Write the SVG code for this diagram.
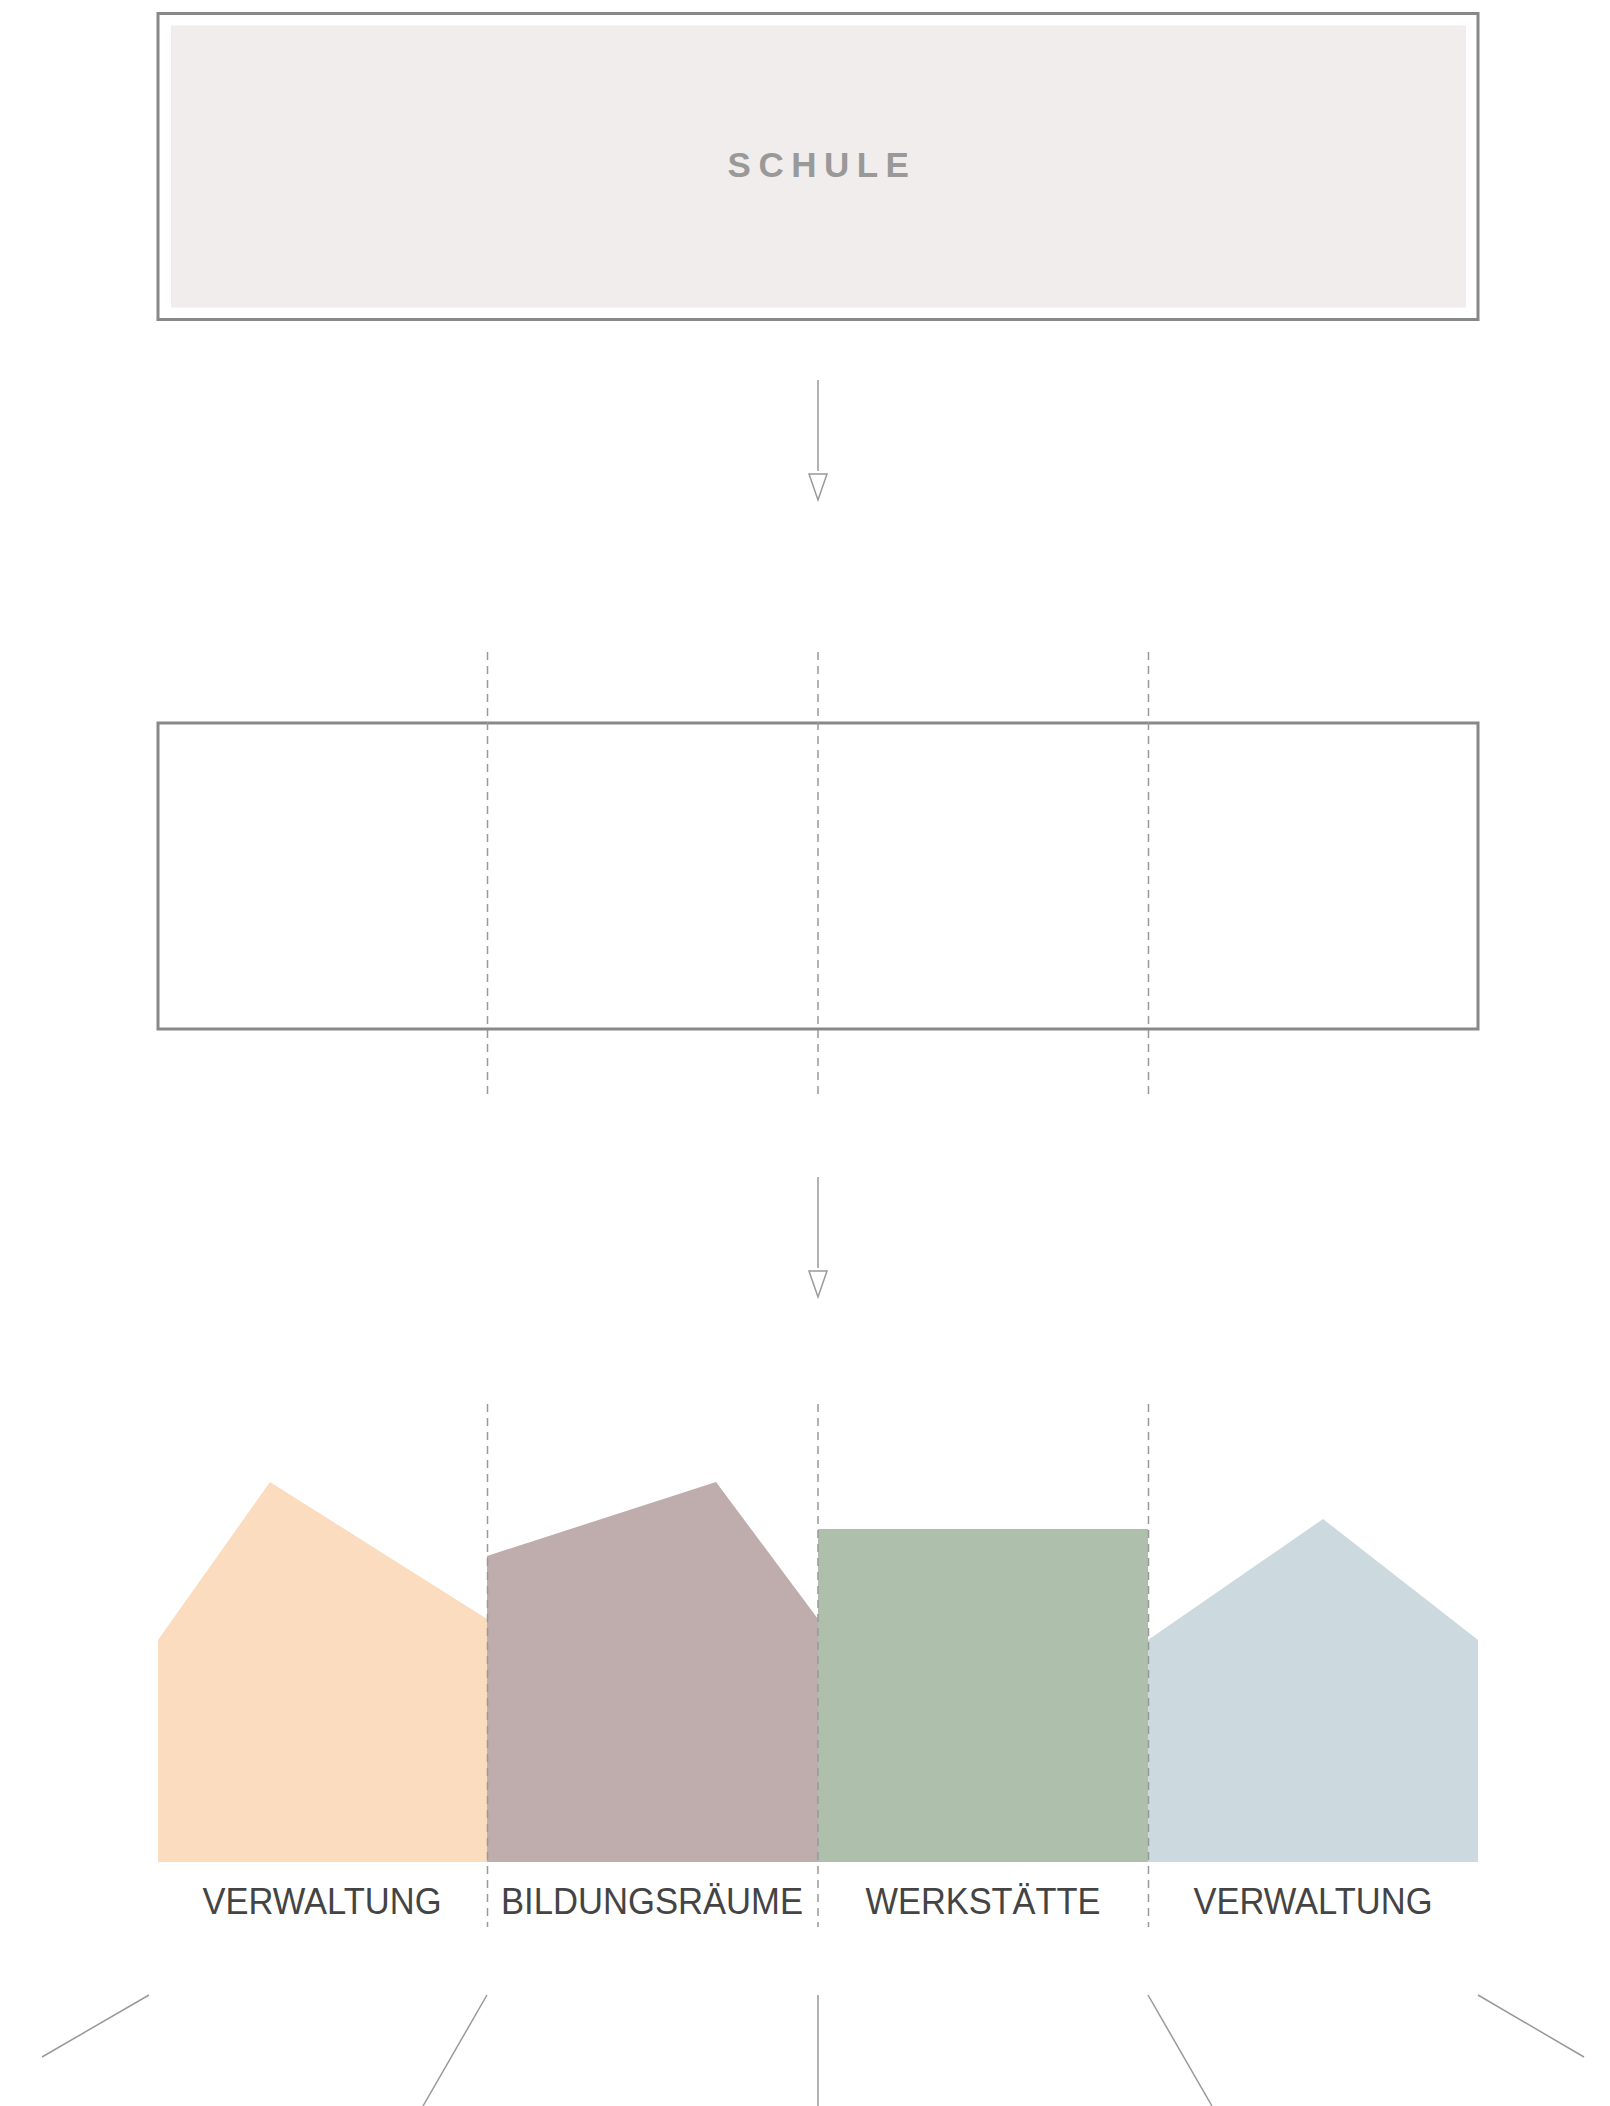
<svg xmlns="http://www.w3.org/2000/svg" width="1610" height="2106" viewBox="0 0 1610 2106">
<style>
.frame{fill:none;stroke:#888;stroke-width:3}
.dash{fill:none;stroke:#999;stroke-width:1.5;stroke-dasharray:8 6}
.conn{fill:none;stroke:#999;stroke-width:1.5}
.head{fill:#fff;stroke:#999;stroke-width:1.5}
.lbl{font-family:"Liberation Sans",Arial,sans-serif;font-size:36px;fill:#444;text-anchor:middle}
.title{font-family:"Liberation Sans",Arial,sans-serif;font-size:35px;font-weight:bold;fill:#999;text-anchor:middle;letter-spacing:7.5px}
</style>
<rect width="1610" height="2106" fill="#fff"/>
<g id="schule">
<rect x="158" y="13.5" width="1320" height="306" class="frame"/>
<rect x="171" y="25.5" width="1295" height="282" fill="#f1edec"/>
<text x="822" y="177" class="title">SCHULE</text>
</g>
<g id="raster">
<rect x="158" y="723" width="1320" height="306" class="frame"/>
</g>
<g id="verwaltung1">
<polygon points="158,1640 270,1482 487,1619 487,1862 158,1862" fill="#fbdcbf"/>
<text x="322" y="1914" class="lbl" textLength="239" lengthAdjust="spacingAndGlyphs">VERWALTUNG</text>
</g>
<g id="bildungsraeume">
<polygon points="487,1556 716,1482 818,1619 818,1862 487,1862" fill="#bfacac"/>
<text x="652" y="1914" class="lbl" textLength="302" lengthAdjust="spacingAndGlyphs">BILDUNGSRÄUME</text>
</g>
<g id="werkstaette">
<rect x="818" y="1529" width="330" height="333" fill="#aec0ac"/>
<text x="983" y="1914" class="lbl" textLength="235" lengthAdjust="spacingAndGlyphs">WERKSTÄTTE</text>
</g>
<g id="verwaltung2">
<polygon points="1148,1640 1323,1519 1478,1640 1478,1862 1148,1862" fill="#ccd9de"/>
<text x="1313" y="1914" class="lbl" textLength="239" lengthAdjust="spacingAndGlyphs">VERWALTUNG</text>
</g>
<g id="connectors">
<line x1="818" y1="380" x2="818" y2="471" class="conn"/>
<polygon points="809,474 827,474 818,500" class="head"/>
<line x1="818" y1="1177" x2="818" y2="1268" class="conn"/>
<polygon points="809,1271 827,1271 818,1297" class="head"/>
<line x1="487.5" y1="652" x2="487.5" y2="1100" class="dash" stroke-dasharray="8 5.93"/>
<line x1="818" y1="652" x2="818" y2="1100" class="dash" stroke-dasharray="8 5.93"/>
<line x1="1148.5" y1="652" x2="1148.5" y2="1100" class="dash" stroke-dasharray="8 5.93"/>
<line x1="487.5" y1="1404" x2="487.5" y2="1927" class="dash"/>
<line x1="818" y1="1404" x2="818" y2="1927" class="dash"/>
<line x1="1148.5" y1="1404" x2="1148.5" y2="1927" class="dash"/>
<line x1="149" y1="1995" x2="42" y2="2057" class="conn"/>
<line x1="487" y1="1995" x2="423" y2="2106" class="conn"/>
<line x1="818" y1="1995" x2="818" y2="2106" class="conn"/>
<line x1="1148" y1="1995" x2="1212" y2="2106" class="conn"/>
<line x1="1478" y1="1995" x2="1584" y2="2057" class="conn"/>
</g>
</svg>
